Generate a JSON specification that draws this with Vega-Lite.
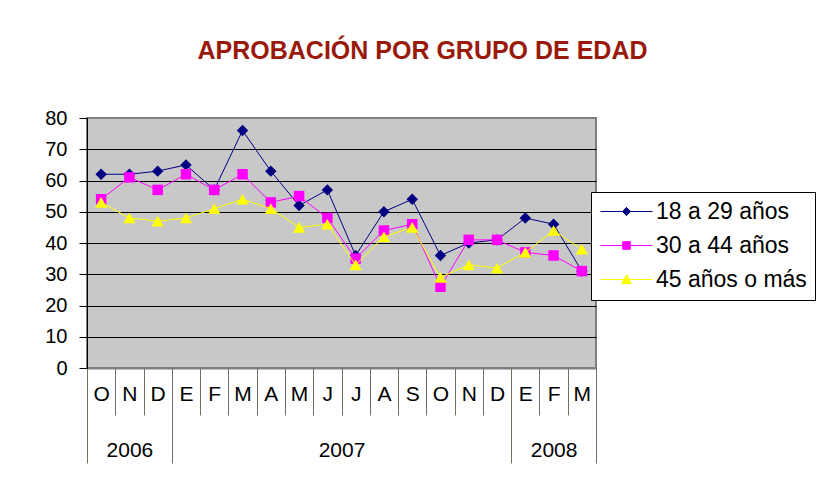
{
  "$schema": "https://vega.github.io/schema/vega-lite/v6.json",
  "width": 509,
  "height": 250,
  "autosize": {"type": "none"},
  "padding": {"left": 87, "top": 118, "right": 233, "bottom": 116},
  "background": "white",
  "config": {
    "font": "Liberation Sans",
    "view": {"fill": "#C8C8C8", "stroke": "#808080", "strokeWidth": 2}
  },
  "title": {
    "text": "APROBACIÓN POR GRUPO DE EDAD",
    "color": "#991A0A",
    "font": "Liberation Sans",
    "fontSize": 25,
    "fontWeight": "bold",
    "anchor": "middle",
    "dx": 81,
    "baseline": "alphabetic",
    "offset": 24
  },
  "datasets": {
    "aprobacion": [
      {"serie": "18 a 29 años", "n": 1, "valor": 62},
      {"serie": "18 a 29 años", "n": 2, "valor": 62},
      {"serie": "18 a 29 años", "n": 3, "valor": 63},
      {"serie": "18 a 29 años", "n": 4, "valor": 65},
      {"serie": "18 a 29 años", "n": 5, "valor": 57},
      {"serie": "18 a 29 años", "n": 6, "valor": 76},
      {"serie": "18 a 29 años", "n": 7, "valor": 63},
      {"serie": "18 a 29 años", "n": 8, "valor": 52},
      {"serie": "18 a 29 años", "n": 9, "valor": 57},
      {"serie": "18 a 29 años", "n": 10, "valor": 36},
      {"serie": "18 a 29 años", "n": 11, "valor": 50},
      {"serie": "18 a 29 años", "n": 12, "valor": 54},
      {"serie": "18 a 29 años", "n": 13, "valor": 36},
      {"serie": "18 a 29 años", "n": 14, "valor": 40},
      {"serie": "18 a 29 años", "n": 15, "valor": 41},
      {"serie": "18 a 29 años", "n": 16, "valor": 48},
      {"serie": "18 a 29 años", "n": 17, "valor": 46},
      {"serie": "18 a 29 años", "n": 18, "valor": 31},
      {"serie": "30 a 44 años", "n": 1, "valor": 54},
      {"serie": "30 a 44 años", "n": 2, "valor": 61},
      {"serie": "30 a 44 años", "n": 3, "valor": 57},
      {"serie": "30 a 44 años", "n": 4, "valor": 62},
      {"serie": "30 a 44 años", "n": 5, "valor": 57},
      {"serie": "30 a 44 años", "n": 6, "valor": 62},
      {"serie": "30 a 44 años", "n": 7, "valor": 53},
      {"serie": "30 a 44 años", "n": 8, "valor": 55},
      {"serie": "30 a 44 años", "n": 9, "valor": 48},
      {"serie": "30 a 44 años", "n": 10, "valor": 35},
      {"serie": "30 a 44 años", "n": 11, "valor": 44},
      {"serie": "30 a 44 años", "n": 12, "valor": 46},
      {"serie": "30 a 44 años", "n": 13, "valor": 26},
      {"serie": "30 a 44 años", "n": 14, "valor": 41},
      {"serie": "30 a 44 años", "n": 15, "valor": 41},
      {"serie": "30 a 44 años", "n": 16, "valor": 37},
      {"serie": "30 a 44 años", "n": 17, "valor": 36},
      {"serie": "30 a 44 años", "n": 18, "valor": 31},
      {"serie": "45 años o más", "n": 1, "valor": 53},
      {"serie": "45 años o más", "n": 2, "valor": 48},
      {"serie": "45 años o más", "n": 3, "valor": 47},
      {"serie": "45 años o más", "n": 4, "valor": 48},
      {"serie": "45 años o más", "n": 5, "valor": 51},
      {"serie": "45 años o más", "n": 6, "valor": 54},
      {"serie": "45 años o más", "n": 7, "valor": 51},
      {"serie": "45 años o más", "n": 8, "valor": 45},
      {"serie": "45 años o más", "n": 9, "valor": 46},
      {"serie": "45 años o más", "n": 10, "valor": 33},
      {"serie": "45 años o más", "n": 11, "valor": 42},
      {"serie": "45 años o más", "n": 12, "valor": 45},
      {"serie": "45 años o más", "n": 13, "valor": 29},
      {"serie": "45 años o más", "n": 14, "valor": 33},
      {"serie": "45 años o más", "n": 15, "valor": 32},
      {"serie": "45 años o más", "n": 16, "valor": 37},
      {"serie": "45 años o más", "n": 17, "valor": 44},
      {"serie": "45 años o más", "n": 18, "valor": 38}
    ]
  },
  "data": {"name": "aprobacion"},
  "encoding": {
    "y": {
      "field": "valor",
      "type": "quantitative",
      "scale": {"domain": [0, 80], "nice": false, "zero": true},
      "axis": {
        "title": null,
        "values": [0, 10, 20, 30, 40, 50, 60, 70, 80],
        "grid": true,
        "gridColor": {"condition": {"test": "datum.value === 0 || datum.value === 80", "value": "transparent"}, "value": "#000000"},
        "gridWidth": 1,
        "tickColor": "#000000",
        "tickSize": 8,
        "labelFontSize": 20,
        "labelFont": "Liberation Sans",
        "labelColor": "#000000",
        "labelPadding": 12,
        "domainColor": "#000000",
        "domainWidth": 1
      }
    },
    "color": {
      "field": "serie",
      "type": "nominal",
      "scale": {
        "domain": ["18 a 29 años", "30 a 44 años", "45 años o más"],
        "range": ["#000080", "#FF00FF", "#FFFF00"]
      },
      "legend": {
        "title": null,
        "orient": "none",
        "legendX": 504,
        "legendY": 74,
        "fillColor": "white",
        "strokeColor": "#000000",
        "padding": 8,
        "cornerRadius": 0,
        "labelFont": "Liberation Sans",
        "labelFontSize": 23,
        "labelColor": "#000000",
        "symbolSize": 400,
        "symbolOffset": 16,
        "labelOffset": 18,
        "rowPadding": 10,
        "labelLimit": 300,
        "symbolStrokeWidth": 1,
        "symbolOpacity": 1,
        "encode": {
          "symbols": {
            "update": {
              "shape": {"signal": "datum.value === '18 a 29 años' ? 'M-2.6,0H2.6M0,-0.42L0.4,0L0,0.42L-0.4,0Z' : datum.value === '30 a 44 años' ? 'M-2.6,0H2.6M-0.38,-0.38H0.38V0.38H-0.38Z' : 'M-2.6,0H2.6M0,-0.45L0.5,0.42L-0.5,0.42Z'"},
              "fill": {"signal": "datum.value === '18 a 29 años' ? '#000080' : datum.value === '30 a 44 años' ? '#FF00FF' : '#FFFF00'"},
              "stroke": {"signal": "datum.value === '18 a 29 años' ? '#000080' : datum.value === '30 a 44 años' ? '#FF00FF' : '#FFFF00'"}
            }
          }
        }
      }
    }
  },
  "layer": [
    {
      "transform": [{"filter": "datum.serie === '18 a 29 años'"}],
      "mark": {"type": "line", "strokeWidth": 1, "point": {"shape": "diamond", "size": 130, "filled": true}},
      "encoding": {
        "x": {
          "field": "n",
          "type": "quantitative",
          "scale": {"domain": [0.5, 18.5], "nice": false, "zero": false},
          "axis": {
            "orient": "bottom",
            "title": null,
            "values": [1, 2, 3, 4, 5, 6, 7, 8, 9, 10, 11, 12, 13, 14, 15, 16, 17, 18],
            "labelExpr": "['O','N','D','E','F','M','A','M','J','J','A','S','O','N','D','E','F','M'][datum.value - 1]",
            "ticks": false,
            "domain": false,
            "grid": false,
            "labelFont": "Liberation Sans",
            "labelFontSize": 21,
            "labelColor": "#000000",
            "labelPadding": 15,
            "labelFlush": false,
            "labelOverlap": false
          }
        }
      }
    },
    {
      "transform": [{"filter": "datum.serie === '30 a 44 años'"}],
      "mark": {"type": "line", "strokeWidth": 1, "point": {"shape": "square", "size": 110, "filled": true}},
      "encoding": {
        "x": {
          "field": "n",
          "type": "quantitative",
          "scale": {"domain": [0.5, 18.5], "nice": false, "zero": false},
          "axis": {
            "orient": "bottom",
            "title": null,
            "values": [0.5, 1.5, 2.5, 3.5, 4.5, 5.5, 6.5, 7.5, 8.5, 9.5, 10.5, 11.5, 12.5, 13.5, 14.5, 15.5, 16.5, 17.5, 18.5],
            "labels": false,
            "ticks": true,
            "tickColor": "#707060",
            "tickWidth": 1,
            "tickSize": 47,
            "domain": true,
            "domainColor": "#808080",
            "domainWidth": 2,
            "grid": false
          }
        }
      }
    },
    {
      "transform": [{"filter": "datum.serie === '45 años o más'"}],
      "mark": {"type": "line", "strokeWidth": 1, "point": {"shape": "triangle-up", "size": 150, "filled": true}},
      "encoding": {
        "x": {
          "field": "n",
          "type": "quantitative",
          "scale": {"domain": [0.5, 18.5], "nice": false, "zero": false},
          "axis": {
            "orient": "bottom",
            "title": null,
            "values": [0.5, 2, 3.5, 9.5, 15.5, 17, 18.5],
            "labelExpr": "datum.value === 2 ? '2006' : datum.value === 9.5 ? '2007' : datum.value === 17 ? '2008' : ''",
            "ticks": true,
            "tickSize": 95,
            "tickWidth": 1,
            "tickColor": {"condition": {"test": "datum.value === 2 || datum.value === 9.5 || datum.value === 17", "value": "transparent"}, "value": "#707060"},
            "domain": false,
            "grid": false,
            "labelFont": "Liberation Sans",
            "labelFontSize": 21,
            "labelColor": "#000000",
            "labelPadding": -24,
            "labelFlush": false,
            "labelOverlap": false
          }
        }
      }
    }
  ],
  "resolve": {"axis": {"x": "independent"}}
}
